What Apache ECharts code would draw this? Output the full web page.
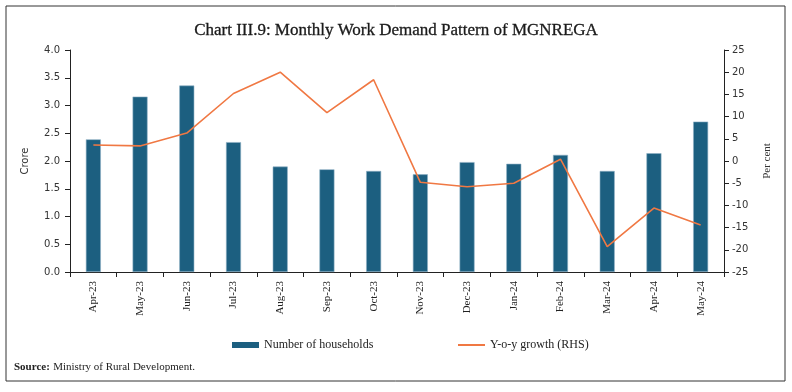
<!DOCTYPE html>
<html><head><meta charset="utf-8">
<script src="https://cdn.jsdelivr.net/npm/echarts@6/dist/echarts.min.js"></script>
<style>html,body{margin:0;padding:0;background:#fff}#c{width:792px;height:392px}</style>
</head><body><div id="c"></div>
<script>
const categories = ['Apr-23','May-23','Jun-23','Jul-23','Aug-23','Sep-23','Oct-23','Nov-23','Dec-23','Jan-24','Feb-24','Mar-24','Apr-24','May-24'];
const households = [2.39,3.16,3.36,2.34,1.90,1.85,1.82,1.76,1.98,1.95,2.11,1.82,2.14,2.71];
const yoyGrowth = [3.6,3.4,6.3,15.2,20.0,10.9,18.3,-4.8,-5.8,-5.0,0.4,-19.3,-10.6,-14.4];
const leftTicks = ['0.0','0.5','1.0','1.5','2.0','2.5','3.0','3.5','4.0'];

const serif = '"Liberation Serif","DejaVu Serif",serif';
const sans = '"DejaVu Sans","Liberation Sans",sans-serif';
const chart = echarts.init(document.getElementById('c'));
chart.setOption({
  animation:false,
  title:{text:'Chart III.9: Monthly Work Demand Pattern of MGNREGA',left:'center',top:17,
    textStyle:{fontFamily:serif,fontSize:17,fontWeight:'normal',color:'#1a1a1a',textBorderColor:'#1a1a1a',textBorderWidth:0.3}},
  grid:{left:70,right:68,top:50,bottom:120},
  legend:[
    {data:[{name:'Number of households',icon:'rect',itemStyle:{borderWidth:0}}],left:227,top:334,itemWidth:27,itemHeight:6,itemGap:4,
      textStyle:{fontFamily:serif,fontSize:12,color:'#222'}},
    {data:[{name:'Y-o-y growth (RHS)',icon:'rect',itemStyle:{color:'#f07843',borderWidth:0}}],left:453,top:334,itemWidth:27,itemHeight:2,
      textStyle:{fontFamily:serif,fontSize:12,color:'#222'}}
  ],
  graphic:[
    {type:'rect',shape:{x:6,y:6,width:779,height:375},style:{fill:'none',stroke:'#333',lineWidth:1}},
    {type:'text',left:14,top:361,style:{rich:{b:{fontWeight:'bold',fontFamily:serif,fontSize:11,fill:'#222'},n:{fontFamily:serif,fontSize:11,fill:'#222'}},
      text:'{b|Source:} {n|Ministry of Rural Development.}'}}
  ],
  xAxis:{type:'category',data:categories,
    axisLine:{lineStyle:{color:'#222',width:1}},
    axisTick:{show:true,length:5,alignWithLabel:false,lineStyle:{color:'#222'}},
    axisLabel:{rotate:90,fontFamily:serif,fontSize:11,color:'#222',margin:9,interval:0}},
  yAxis:[
    {type:'value',min:0,max:4,interval:0.5,name:'Crore',nameLocation:'middle',nameGap:40,nameRotate:90,
      nameTextStyle:{fontFamily:sans,fontSize:10,color:'#333'},
      axisLine:{show:true,lineStyle:{color:'#222'}},axisTick:{show:true,length:5,lineStyle:{color:'#222'}},
      splitLine:{show:false},
      axisLabel:{fontFamily:sans,fontSize:10,color:'#333',margin:10,formatter:(v)=>leftTicks[Math.round(v*2)]}},
    {type:'value',min:-25,max:25,interval:5,name:'Per cent',nameLocation:'middle',nameGap:38,nameRotate:90,
      nameTextStyle:{fontFamily:serif,fontSize:11,color:'#333'},
      axisLine:{show:true,lineStyle:{color:'#222'}},axisTick:{show:true,length:5,lineStyle:{color:'#222'}},
      splitLine:{show:false},
      axisLabel:{fontFamily:sans,fontSize:10,color:'#333',margin:8}}
  ],
  series:[
    {name:'Number of households',type:'bar',data:households,barWidth:15,
      itemStyle:{color:'#1c5f80',borderColor:'#8fb0c4',borderWidth:0.6}},
    {name:'Y-o-y growth (RHS)',type:'line',yAxisIndex:1,data:yoyGrowth,symbol:'none',
      lineStyle:{color:'#f07843',width:1.6},itemStyle:{color:'#f07843'}}
  ]
});
</script></body></html>
